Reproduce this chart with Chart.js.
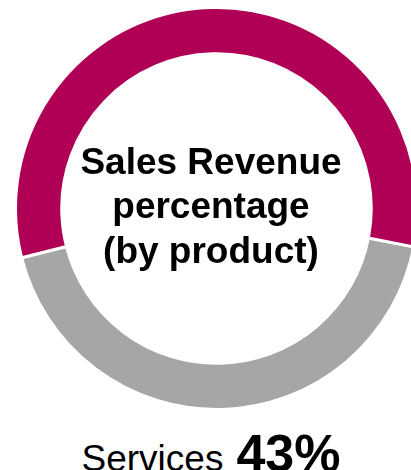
<!DOCTYPE html>
<html>
<head>
<meta charset="utf-8">
<script src="https://cdn.jsdelivr.net/npm/chart.js@4"></script>
<style>
    html, body {
        margin: 0;
        padding: 0;
        width: 411px;
        height: 470px;
        overflow: hidden;
        background: #ffffff;
        font-family: "Liberation Sans", Arial, sans-serif;
    }
    #stage {
        position: relative;
        width: 411px;
        height: 470px;
        overflow: hidden;
    }
    #ring-wrap {
        position: absolute;
        left: 14px;
        top: 6px;
        width: 405px;
        height: 405px;
    }
    #center-title {
        position: absolute;
        left: 0;
        width: 422px;
        top: 140px;
        text-align: center;
        font-weight: bold;
        font-size: 37px;
        line-height: 44.3px;
        color: #000000;
    }
    #share-label {
        position: absolute;
        left: 0;
        width: 422px;
        top: 427px;
        text-align: center;
        color: #000000;
        white-space: nowrap;
        font-size: 52px;
        line-height: 52px;
    }
    #share-label .name {
        font-size: 37px;
        margin-right: 13px;
    }
    #share-label .pct {
        font-weight: bold;
    }
</style>
</head>
<body>
<div id="stage">
    <div id="ring-wrap"><canvas id="revenueRing"></canvas></div>
    <div id="center-title"></div>
    <div id="share-label"></div>
</div>
<script>
    const segments = ['Services', 'Products'];
    const sharePct = [43, 57];
    const segmentColors = ['#a6a6a6', '#af0055'];
    const titleLines = ['Sales Revenue', 'percentage', '(by product)'];

    document.getElementById('center-title').innerHTML = titleLines.join('<br>');
    document.getElementById('share-label').innerHTML =
        `<span class="name">${segments[0]}</span><span class="pct">${sharePct[0]}%</span>`;

    new Chart(document.getElementById('revenueRing'), {
        type: 'doughnut',
        data: {
            labels: segments,
            datasets: [{
                data: sharePct,
                backgroundColor: segmentColors,
                borderColor: '#ffffff',
                borderWidth: 3
            }]
        },
        options: {
            responsive: true,
            maintainAspectRatio: false,
            animation: false,
            rotation: 101,
            cutout: '77%',
            layout: { padding: 0 },
            plugins: {
                legend: { display: false },
                tooltip: { enabled: false }
            }
        }
    });
</script>
</body>
</html>
